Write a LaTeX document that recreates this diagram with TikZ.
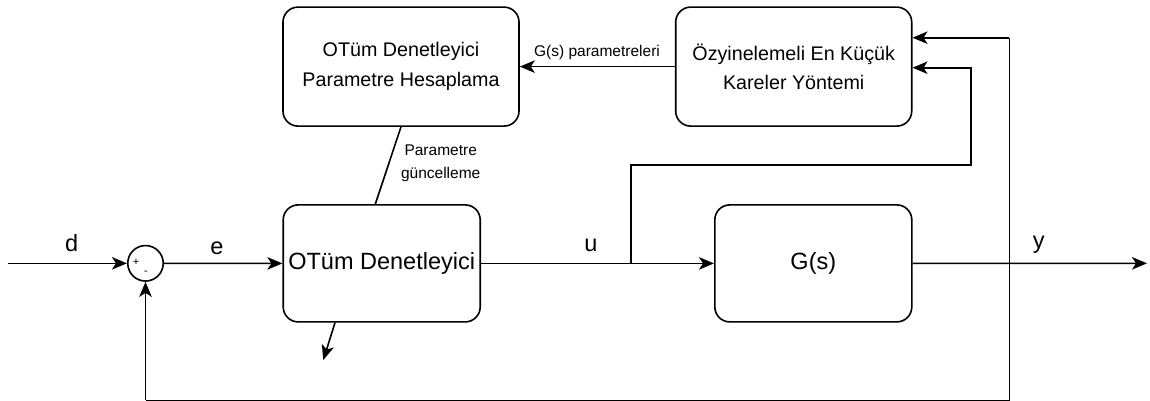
\documentclass[tikz,border=0pt]{standalone}
\usepackage{fontspec}
\setmainfont{Liberation Sans}
\usetikzlibrary{arrows.meta}
\begin{document}
\begin{tikzpicture}[x=1pt,y=-1pt,
  line width=1.6pt,
  arr/.style={-{Stealth[length=15pt,width=12.5pt,inset=4pt]}},
  blk/.style={draw,rectangle,rounded corners=15pt,inner sep=0pt},
  bigtxt/.style={font=\fontsize{23.5}{28}\selectfont},
  midtxt/.style={font=\fontsize{19.7}{29.5}\selectfont,align=center},
  smalltxt/.style={font=\fontsize{15.5}{23.3}\selectfont,align=center}]
\useasboundingbox (0,0) rectangle (1150,400);
% blocks
\node[blk,minimum width=197pt,minimum height=117pt,bigtxt] (ctrl) at (381.7,263.4) {OTüm Denetleyici};
\node[blk,minimum width=236pt,minimum height=119pt,midtxt] (calc) at (401,66.6) {OTüm Denetleyici\\Parametre Hesaplama};
\node[blk,minimum width=236pt,minimum height=119pt,midtxt] (rls) at (793.7,66.6) {Özyinelemeli En Küçük\\Kareler Yöntemi};
\node[blk,minimum width=197pt,minimum height=117pt,bigtxt] (plant) at (813.3,263.4) {G(s)};
\node[draw,circle,minimum size=35.5pt,inner sep=0pt] (sum) at (145.5,263.3) {};
\node[font=\fontsize{11}{11}\selectfont] (plus) at (136,262.5) {+};
\node[font=\fontsize{11}{11}\selectfont] (minus) at (146,272.5) {-};
% coordinates
\coordinate (din) at (8,263.3);
\coordinate (yout) at (1147,263.3);
\coordinate (tap) at (630.7,263.3);
\coordinate (tap2) at (630.7,165);
\coordinate (tap3) at (970.7,165);
\coordinate (tap4) at (970.7,67.7);
\coordinate (fbtop) at (1009.3,37.7);
\coordinate (fbbr) at (1009.3,400.4);
\coordinate (fbbl) at (145.5,400.4);
\coordinate (free) at (323.3,360);
% connectors
\draw[arr] (din) -- (sum.west);
\draw[arr] (sum.east) -- (ctrl.west);
\draw[arr] (ctrl.east) -- (plant.west);
\draw[arr] (plant.east) -- (yout);
\draw[arr] (tap) -- (tap2) -- (tap3) -- (tap4) -- (tap4 -| rls.east);
\draw[arr] (fbtop) -- (fbtop -| rls.east);
\draw (fbtop) -- (fbbr) -- (fbbl);
\draw[arr] (fbbl) -- (sum.south);
\draw[arr] (rls.west) -- (calc.east);
\draw (calc.south) -- ([xshift=-6.4pt]ctrl.north);
\draw[arr] ([xshift=-46.7pt]ctrl.south) -- (free);
% labels
\node[bigtxt,anchor=base] (ld) at (71.7,251) {d};
\node[bigtxt,anchor=base] (le) at (217,254.3) {e};
\node[bigtxt,anchor=base] (lu) at (591,251) {u};
\node[bigtxt,anchor=base] (ly) at (1038.8,248.3) {y};
\node[smalltxt,anchor=base] (lg) at (597,56.5) {G(s) parametreleri};
\node[smalltxt] (lp) at (440.7,163.3) {Parametre\\güncelleme};
\end{tikzpicture}
\end{document}
